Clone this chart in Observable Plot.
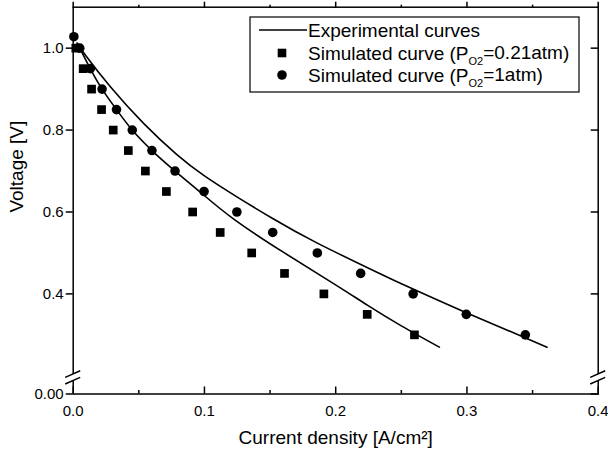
<!DOCTYPE html>
<html><head><meta charset="utf-8">
<script src="https://cdn.jsdelivr.net/npm/d3@7"></script>
<script src="https://cdn.jsdelivr.net/npm/@observablehq/plot@0.6"></script>
<style>body{margin:0;background:#fff;} #chart{width:608px;height:457px;}</style>
</head><body><div id="chart"></div>
<script>
// Simulated curve (P_O2 = 0.21 atm) — squares
const squareX = [0.002,0.0076,0.014,0.0216,0.0305,0.042,0.055,0.071,0.091,0.112,0.136,0.161,0.191,0.224,0.260];
const squareV = [1.00,0.95,0.90,0.85,0.80,0.75,0.70,0.65,0.60,0.55,0.50,0.45,0.40,0.35,0.30];
// Simulated curve (P_O2 = 1 atm) — circles
const circleX = [0.0005,0.005,0.013,0.022,0.033,0.045,0.060,0.0776,0.0997,0.1247,0.152,0.186,0.219,0.259,0.2995,0.3445];
const circleV = [1.028,1.00,0.95,0.90,0.85,0.80,0.75,0.70,0.65,0.60,0.55,0.50,0.45,0.40,0.35,0.30];
// Experimental curves
const upperX = [0.003,0.0095,0.0285,0.054,0.079,0.100,0.1247,0.152,0.186,0.2346,0.250,0.2982,0.361];
const upperV = [1.012,0.982,0.905,0.815,0.740,0.688,0.637,0.584,0.524,0.448,0.425,0.356,0.270];
const lowerX = [0.003,0.005,0.013,0.022,0.033,0.045,0.060,0.0776,0.097,0.1226,0.161,0.199,0.2244,0.250,0.279];
const lowerV = [1.012,1.00,0.95,0.90,0.85,0.80,0.75,0.70,0.648,0.582,0.500,0.424,0.372,0.322,0.270];
// Axis: broken y axis — the bottom of the linear segment stands for 0.00
const yLow = 0.1556, yHigh = 1.1, yBreak = 0.195;
const xTicks = [0,0.1,0.2,0.3,0.4];
const xMinorTicks = [0.05,0.15,0.25,0.35];
const yTicks = [yLow,0.4,0.6,0.8,1.0];
const yTickLabels = ["0.00","0.4","0.6","0.8","1.0"];
const xTickLabels = ["0.0","0.1","0.2","0.3","0.4"];
const xTitle = "Current density [A/cm²]";
const yTitle = "Voltage [V]";

const toPts = (xs, vs) => xs.map((x, i) => ({x, v: vs[i]}));
const squares = toPts(squareX, squareV);
const circles = toPts(circleX, circleV);
const upper = toPts(upperX, upperV);
const lower = toPts(lowerX, lowerV);

const FONT = "'Liberation Sans', Arial, Helvetica, sans-serif";
const plot = Plot.plot({
  width: 608, height: 457,
  marginLeft: 72.7, marginRight: 10.3, marginTop: 6.7, marginBottom: 63.5,
  x: {domain: [0, 0.4]},
  y: {domain: [yLow, yHigh]},
  style: {fontFamily: FONT, fontSize: "15px", color: "#000", background: "#fff", overflow: "visible"},
  marks: [
    Plot.line(upper, {x: "x", y: "v", curve: "natural", stroke: "#000", strokeWidth: 1.6}),
    Plot.line(lower, {x: "x", y: "v", curve: "natural", stroke: "#000", strokeWidth: 1.6}),
    Plot.dot(squares, {x: "x", y: "v", symbol: "square", r: 4.9, fill: "#000", stroke: "none"}),
    Plot.dot(circles, {x: "x", y: "v", symbol: "circle", r: 4.8, fill: "#000", stroke: "none"}),
    Plot.frame({stroke: "#000", strokeWidth: 1.5}),
    Plot.axisX(xTicks, {anchor: "bottom", tickSize: 0, tickPadding: 11, label: null, tickFormat: (d, i) => xTickLabels[i], fontSize: 15}),
    Plot.axisX(xTicks, {anchor: "bottom", tickSize: 7, dy: -7, fill: "none", label: null, strokeWidth: 1.5}),
    Plot.axisX(xMinorTicks, {anchor: "bottom", tickSize: 3.5, dy: -3.5, fill: "none", label: null, strokeWidth: 1.5}),
    Plot.axisX(xTicks, {anchor: "top", tickSize: 6, fill: "none", label: null, strokeWidth: 1.5}),
    Plot.axisX(xMinorTicks, {anchor: "top", tickSize: 3, fill: "none", label: null, strokeWidth: 1.5}),
    Plot.axisY(yTicks, {anchor: "left", tickSize: 7, tickPadding: 2.5, label: null, tickFormat: (d, i) => yTickLabels[i], fontSize: 15, strokeWidth: 1.5}),
    Plot.axisY(yTicks, {anchor: "right", tickSize: 8, dx: -8, fill: "none", label: null, strokeWidth: 1.5}),
    Plot.text([xTitle], {frameAnchor: "bottom", dy: 50, text: d => d, fontSize: 19}),
    Plot.text([yTitle], {frameAnchor: "left", dx: -56, dy: 12, rotate: -90, text: d => d, fontSize: 19})
  ]
});
document.getElementById("chart").appendChild(plot);
const svg = d3.select(plot);

// axis breaks (positioned through the scales)
const ys = plot.scale("y"), xs = plot.scale("x");
const yb = ys.apply(yBreak);
for (const xv of [0, 0.4]) {
  const xp = xs.apply(xv);
  const g = svg.append("g");
  g.append("rect").attr("x", xp - 3).attr("y", yb - 3.3).attr("width", 6).attr("height", 6.6).attr("fill", "#fff");
  for (const c of [yb - 3.3, yb + 3.3]) {
    g.append("line").attr("x1", xp - 7.5).attr("y1", c + 3.3).attr("x2", xp + 7.5).attr("y2", c - 3.3)
      .attr("stroke", "#000").attr("stroke-width", 1.5);
  }
}

// legend
const L = {x: 250, y: 17, w: 329, h: 75, row: [30, 53, 75]};
const lg = svg.append("g").attr("font-family", FONT).attr("font-size", 19).attr("fill", "#000").attr("text-anchor", "start");
lg.append("rect").attr("x", L.x).attr("y", L.y).attr("width", L.w).attr("height", L.h)
  .attr("fill", "#fff").attr("stroke", "#000").attr("stroke-width", 1.2);
lg.append("line").attr("x1", L.x + 9).attr("x2", L.x + 57).attr("y1", L.row[0]).attr("y2", L.row[0])
  .attr("stroke", "#000").attr("stroke-width", 1.6);
lg.append("rect").attr("x", L.x + 32 - 4.3).attr("y", L.row[1] - 4.3).attr("width", 8.6).attr("height", 8.6).attr("fill", "#000");
lg.append("circle").attr("cx", L.x + 32).attr("cy", L.row[2]).attr("r", 4.8).attr("fill", "#000");
const tx = L.x + 58;
lg.append("text").attr("x", tx).attr("y", L.row[0]).attr("dy", "0.35em").text("Experimental curves");
function simLabel(y, val) {
  const t = lg.append("text").attr("x", tx).attr("y", y).attr("dy", "0.35em");
  t.append("tspan").text("Simulated curve (P");
  t.append("tspan").attr("font-size", 11).attr("dy", "0.45em").text("O2");
  t.append("tspan").attr("dy", "-0.3em").text("=" + val + ")");
}
simLabel(L.row[1], "0.21atm");
simLabel(L.row[2], "1atm");
</script>
</body></html>
